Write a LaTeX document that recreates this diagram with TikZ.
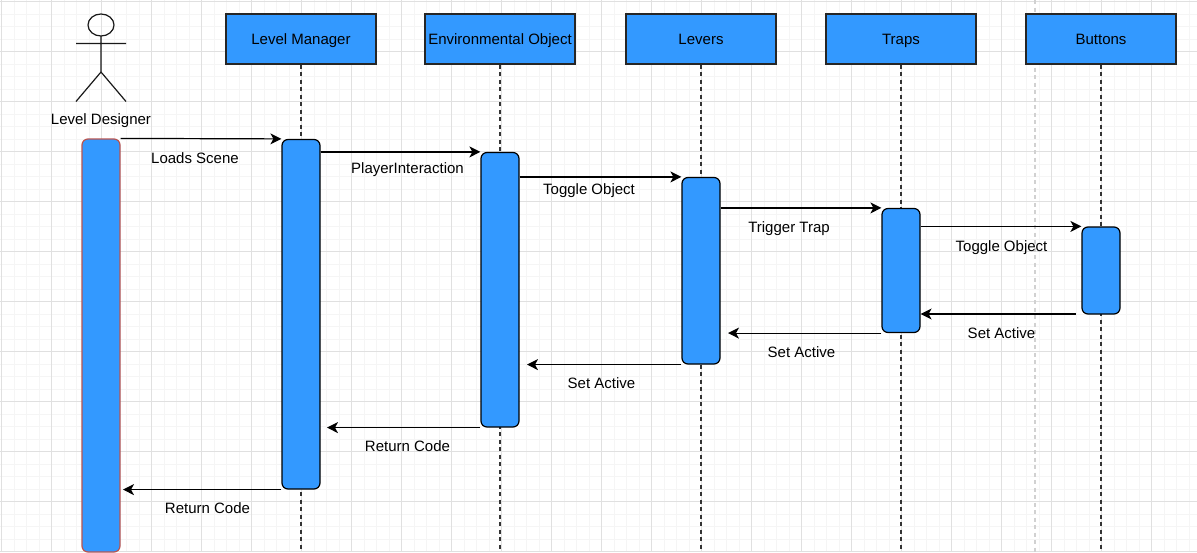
\documentclass[tikz,border=0pt]{standalone}
\usepackage{fontspec}
\setmainfont{Liberation Sans}
\usetikzlibrary{arrows.meta}

\tikzset{
	header/.style={draw=black!85, line width=1.2pt, fill=bluefill, minimum width=150pt, minimum height=50pt, inner sep=0pt},
	bar/.style={draw=black, line width=1.2pt, fill=bluefill, rounded corners=6pt, minimum width=38pt, inner sep=0pt},
	lifeline/.style={draw=black!80, line width=1.3pt, dash pattern=on 4pt off 3.5pt},
	msg/.style={draw=black, line width=1.2pt, -{Stealth[length=11pt, width=11pt, inset=3pt]}},
	lbl/.style={inner sep=0pt, text height=11pt, text depth=0pt, font=\fontsize{15}{18}\selectfont}
}
\definecolor{bluefill}{HTML}{3399FF}
\definecolor{redline}{HTML}{B85450}

\begin{document}
\begin{tikzpicture}[x=1pt, y=-1pt]
	\useasboundingbox (0, 0) rectangle (1197, 552);
	\fill[white] (0, 0) rectangle (1197, 552);
	
	% grid
	\foreach \i in {0,...,96} \draw[black!4, line width=1pt] ({1.5+12.5*\i}, 0) -- ({1.5+12.5*\i}, 552);
	\foreach \i in {0,...,44} \draw[black!4, line width=1pt] (0, {1.5+12.5*\i}) -- (1197, {1.5+12.5*\i});
	\foreach \i in {0,...,23} \draw[black!12, line width=1pt] ({1.5+50*\i}, 0) -- ({1.5+50*\i}, 552);
	\foreach \i in {0,...,11} \draw[black!12, line width=1pt] (0, {1.5+50*\i}) -- (1197, {1.5+50*\i});
	\draw[black!18, line width=1.3pt, dash pattern=on 4pt off 3.5pt] (1035, 0) -- (1035, 552);
	
	% actor
	\draw[black!90, line width=1.2pt] (101, 25) ellipse (13 and 11);
	\draw[black!90, line width=1.2pt] (101, 36) -- (101, 72) (76, 43.5) -- (126, 43.5) (76, 101.5) -- (101, 72) -- (126, 101.5);
	\node[lbl] (designer) at (101, 118.5) {Level Designer};
	
	% headers
	\node[header] (manager) at (301, 39) {};
	\node[header] (env) at (500, 39) {};
	\node[header] (levers) at (701, 39) {};
	\node[header] (traps) at (901, 39) {};
	\node[header] (buttons) at (1101, 39) {};
	\node[lbl] at (manager) {Level Manager};
	\node[lbl] at (env) {Environmental Object};
	\node[lbl] at (levers) {Levers};
	\node[lbl] at (traps) {Traps};
	\node[lbl] at (buttons) {Buttons};
	
	% lifelines
	\coordinate (managerend) at (301, 552);
	\coordinate (envend) at (500, 552);
	\coordinate (leversend) at (701, 552);
	\coordinate (trapsend) at (901, 552);
	\coordinate (buttonsend) at (1101, 552);
	\draw[lifeline] (manager.south) -- (managerend);
	\draw[lifeline] (env.south) -- (envend);
	\draw[lifeline] (levers.south) -- (leversend);
	\draw[lifeline] (traps.south) -- (trapsend);
	\draw[lifeline] (buttons.south) -- (buttonsend);
	
	% activation bars
	\node[bar, draw=redline, minimum height=413pt] (designerbar) at (101, 345.5) {};
	\node[bar, minimum height=349.5pt] (managerbar) at (301, 314.25) {};
	\node[bar, minimum height=274.5pt] (envbar) at (500, 289.75) {};
	\node[bar, minimum height=186.5pt] (leversbar) at (701, 270.75) {};
	\node[bar, minimum height=124pt] (trapsbar) at (901, 270.5) {};
	\node[bar, minimum height=87pt] (buttonsbar) at (1101, 270.5) {};
	
	% calls
	\draw[msg] (designerbar.north east) -- (managerbar.north west);
	\draw[msg] (managerbar.east |- envbar.north west) -- (envbar.north west);
	\draw[msg] (envbar.east |- leversbar.north west) -- (leversbar.north west);
	\draw[msg] (leversbar.east |- trapsbar.north west) -- (trapsbar.north west);
	\draw[msg] (trapsbar.east |- buttonsbar.north west) -- (buttonsbar.north west);
	
	% returns
	\coordinate (buttonsout) at (1076, 314);
	\coordinate (trapsin) at (728, 0);
	\coordinate (leversin) at (527, 0);
	\coordinate (envin) at (327, 0);
	\coordinate (managerin) at (123, 0);
	\draw[msg] (buttonsout) -- (trapsbar.east |- buttonsout);
	\draw[msg] (trapsbar.south west) -- (trapsin |- trapsbar.south west);
	\draw[msg] (leversbar.south west) -- (leversin |- leversbar.south west);
	\draw[msg] (envbar.south west) -- (envin |- envbar.south west);
	\draw[msg] (managerbar.south west) -- (managerin |- managerbar.south west);
	
	% labels
	\node[lbl] (m1) at (195, 157.5) {Loads Scene};
	\node[lbl] (m2) at (407.5, 168) {PlayerInteraction};
	\node[lbl] (m3) at (589, 189) {Toggle Object};
	\node[lbl] (m4) at (789, 227) {Trigger Trap};
	\node[lbl] (m5) at (1001.5, 246) {Toggle Object};
	\node[lbl] (m6) at (1001.5, 333) {Set Active};
	\node[lbl] (m7) at (801.5, 352) {Set Active};
	\node[lbl] (m8) at (601.5, 383) {Set Active};
	\node[lbl] (m9) at (407.5, 446) {Return Code};
	\node[lbl] (m10) at (207.5, 507.5) {Return Code};
\end{tikzpicture}
\end{document}
